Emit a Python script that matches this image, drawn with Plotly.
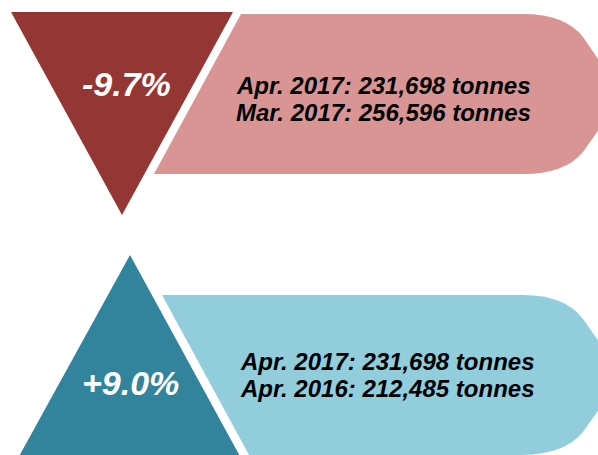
import plotly.graph_objects as go

# Data
periods_top = ["Apr. 2017", "Mar. 2017"]
tonnes_top = [231698, 256596]
periods_bottom = ["Apr. 2017", "Apr. 2016"]
tonnes_bottom = [231698, 212485]

def pct(cur, prev):
    return (cur / prev - 1) * 100

pct_top = pct(tonnes_top[0], tonnes_top[1])
pct_bottom = pct(tonnes_bottom[0], tonnes_bottom[1])

DARK_RED = "#943634"
LIGHT_RED = "#D99594"
DARK_TEAL = "#31849B"
LIGHT_TEAL = "#92CDDC"
FONT = "Liberation Sans, Arial, sans-serif"

fig = go.Figure()

shapes = [
    dict(type="path", path="M 11,12 L 233,12 L 122,215 Z",
         fillcolor=DARK_RED, line=dict(width=0)),
    dict(type="path",
         path="M 241,14 L 523,14 Q 565,14 583,37 L 600,62 L 600,128 L 583,152 Q 565,174 523,174 L 154,174 Z",
         fillcolor=LIGHT_RED, line=dict(width=0)),
    dict(type="path", path="M 130,255 L 242,460 L 17,460 Z",
         fillcolor=DARK_TEAL, line=dict(width=0)),
    dict(type="path",
         path="M 162,295 L 523,295 Q 565,295 583,319 L 600,343 L 600,408 L 583,432 Q 565,454 523,455 L 249,455 Z",
         fillcolor=LIGHT_TEAL, line=dict(width=0)),
]
for s in shapes:
    s.update(xref="x", yref="y", layer="below")

def fmt_line(p, t):
    return f"<b><i>{p}: {t:,} tonnes</i></b>"

annotations = [
    dict(x=126, y=84, text=f"<b><i>{pct_top:+.1f}%</i></b>".replace("+-", "-"),
         font=dict(family=FONT, size=34, color="white")),
    dict(x=130, y=383, text=f"<b><i>{pct_bottom:+.1f}%</i></b>",
         font=dict(family=FONT, size=34, color="white")),
]
for i, (p, t) in enumerate(zip(periods_top, tonnes_top)):
    annotations.append(dict(x=383, y=85 + 27 * i, text=fmt_line(p, t),
                            font=dict(family=FONT, size=24, color="black")))
for i, (p, t) in enumerate(zip(periods_bottom, tonnes_bottom)):
    annotations.append(dict(x=387, y=361 + 27 * i, text=fmt_line(p, t),
                            font=dict(family=FONT, size=24, color="black")))
for a in annotations:
    a.update(xref="x", yref="y", showarrow=False, xanchor="center", yanchor="middle")

fig.update_layout(
    width=598, height=455,
    margin=dict(l=0, r=0, t=0, b=0),
    paper_bgcolor="white", plot_bgcolor="white",
    xaxis=dict(range=[0, 598], visible=False, fixedrange=True),
    yaxis=dict(range=[455, 0], visible=False, fixedrange=True),
    shapes=shapes, annotations=annotations, showlegend=False,
)

fig.write_html(
    "out.html",
    config={"displayModeBar": False},
    post_script="document.body.style.margin='0';document.body.style.overflow='hidden';",
)
